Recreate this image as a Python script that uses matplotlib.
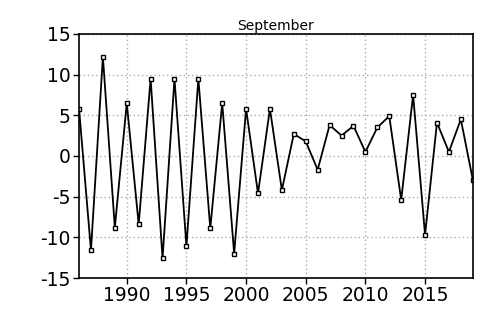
import matplotlib
matplotlib.use("Agg")
import matplotlib.pyplot as plt

plt.rcParams["axes.unicode_minus"] = False

# September values
years = list(range(1986, 2020))
values = [5.8, -11.6, 12.2, -8.8, 6.5, -8.4, 9.5, -12.6, 9.5, -11.1,
          9.5, -8.9, 6.5, -12.0, 5.8, -4.6, 5.8, -4.2, 2.7, 1.8,
          -1.7, 3.8, 2.5, 3.7, 0.5, 3.5, 4.9, -5.4, 7.5, -9.7,
          4.1, 0.5, 4.5, -2.9]
xticks = [1990, 1995, 2000, 2005, 2010, 2015]
yticks = [-15, -10, -5, 0, 5, 10, 15]

fig = plt.figure(figsize=(4.79, 3.17), dpi=100)
ax = fig.add_axes([0.165, 0.123, 0.822, 0.770])

ax.plot(years, values, color="black", linewidth=1.3, marker="s",
        markersize=3.5, markerfacecolor="white", markeredgecolor="black",
        markeredgewidth=1.0)

ax.set_xlim(1986, 2019)
ax.set_ylim(-15, 15)
ax.set_xticks(xticks)
ax.set_yticks(yticks)
ax.tick_params(labelsize=13.5, length=4, width=1, direction="out", pad=2)
ax.grid(True, color="#aaaaaa", linestyle=(0, (1, 2)), linewidth=1)
ax.set_title("September", fontsize=10, pad=3)

for side in ["left", "right"]:
    ax.spines[side].set_linewidth(1.2)
for side in ["top", "bottom"]:
    ax.spines[side].set_linestyle((0, (3, 1)))
    ax.spines[side].set_linewidth(1.2)

fig.savefig("out.png", dpi=100)
